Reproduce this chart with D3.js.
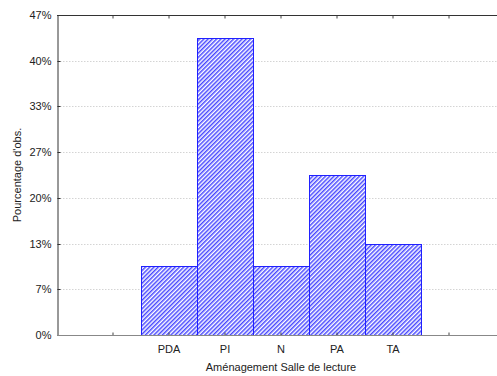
<!DOCTYPE html>
<html><head><meta charset="utf-8">
<script src="https://cdn.jsdelivr.net/npm/d3@7"></script>
<style>body{margin:0;background:#fff}svg{display:block}text{font-family:"Liberation Sans",Arial,sans-serif}</style>
</head><body>
<svg id="c" width="497" height="376"></svg>
<script>
const categories = ["PDA", "PI", "N", "PA", "TA"];
const values = [10, 43.33, 10, 23.33, 13.33]; // % of observations
const slots = ["_a", "PDA", "PI", "N", "PA", "TA", "_b"];
const yTicks = [0, 6.667, 13.333, 20, 26.667, 33.333, 40, 46.667];
const yTickLabels = ["0%", "7%", "13%", "20%", "27%", "33%", "40%", "47%"];
const xTitle = "Aménagement Salle de lecture";
const yTitle = "Pourcentage d'obs.";

const svg = d3.select("#c");
const L = 57, R = 505, T = 15, B = 335;
const x = d3.scaleBand().domain(slots).range([L + 28, R - 28]).padding(0);
const y = d3.scaleLinear().domain([0, 46.667]).range([B, T]);

const defs = svg.append("defs");
const pat = defs.append("pattern").attr("id", "hatch").attr("patternUnits", "userSpaceOnUse")
  .attr("width", 3).attr("height", 3).attr("patternTransform", "rotate(45)");
pat.append("rect").attr("width", 3).attr("height", 3).attr("fill", "#fff");
pat.append("rect").attr("width", 1.5).attr("height", 3).attr("fill", "#4848ff");

// gridlines
svg.append("g").selectAll("line").data(yTicks.slice(1, -1)).join("line")
  .attr("x1", L).attr("x2", 497).attr("y1", d => Math.round(y(d)) + 0.5).attr("y2", d => Math.round(y(d)) + 0.5)
  .attr("stroke", "#d4d4d4").attr("stroke-dasharray", "1.5,1.5");

// bars
svg.append("g").selectAll("rect").data(categories).join("rect")
  .attr("x", d => Math.round(x(d)) + 0.5)
  .attr("y", (d, i) => Math.round(y(values[i])) + 0.5)
  .attr("width", x.bandwidth())
  .attr("height", (d, i) => B - Math.round(y(values[i])))
  .attr("fill", "url(#hatch)").attr("stroke", "#2020ff").attr("stroke-width", 1);

// y axis
const yAxis = d3.axisLeft(y).tickValues(yTicks).tickFormat((d, i) => yTickLabels[i]).tickSize(-3).tickPadding(6);
const gy = svg.append("g").attr("transform", `translate(${L + 0.5},0)`).call(yAxis);
gy.select(".domain").attr("stroke", "#333");
gy.selectAll(".tick line").attr("stroke", "#333");
gy.selectAll("text").attr("font-size", 11).attr("fill", "#222");
gy.selectAll(".tick").attr("transform", d => `translate(0,${Math.round(y(d)) + 0.5})`);

// x axis bottom
const xAxis = d3.axisBottom(x).tickSize(-3).tickPadding(10).tickFormat(d => d.startsWith("_") ? "" : d);
const gx = svg.append("g").attr("transform", `translate(0,${B + 0.5})`).call(xAxis);
gx.select(".domain").remove();
gx.append("line").attr("x1", L).attr("x2", 497).attr("stroke", "#888");
gx.selectAll(".tick line").attr("stroke", "#444");
gx.selectAll("text").attr("font-size", 11).attr("fill", "#222");

// top frame
const gt = svg.append("g").attr("transform", `translate(0,${T + 0.5})`).call(d3.axisTop(x).tickSize(-3).tickFormat(""));
gt.select(".domain").remove();
gt.append("line").attr("x1", L).attr("x2", 497).attr("stroke", "#333");
gt.selectAll(".tick line").attr("stroke", "#444");

// titles
svg.append("text").attr("x", (L + R) / 2).attr("y", 371).attr("text-anchor", "middle")
  .attr("font-size", 11).attr("fill", "#222").text(xTitle);
svg.append("text").attr("transform", `translate(21,${(T + B) / 2}) rotate(-90)`).attr("text-anchor", "middle")
  .attr("font-size", 11).attr("fill", "#222").text(yTitle);
</script>
</body></html>
